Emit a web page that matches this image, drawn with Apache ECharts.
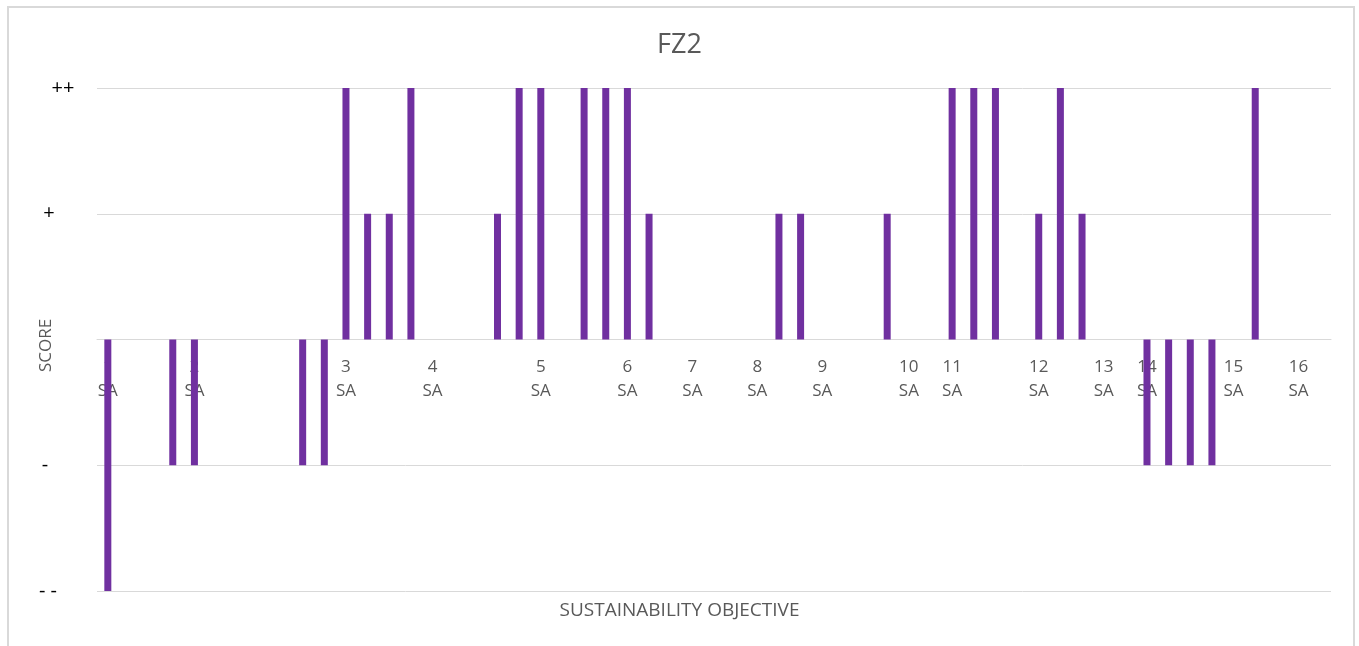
<!DOCTYPE html>
<html>
<head>
<meta charset="utf-8">
<script src="https://cdn.jsdelivr.net/npm/echarts@6/dist/echarts.min.js"></script>
<style>
  html, body { margin: 0; padding: 0; background: #fff; }
  #chart { width: 1359px; height: 646px; }
</style>
</head>
<body>
<div id="chart"></div>
<script>
// one slot per appraisal row, only the first row of each objective is labelled
const categories = [
  '1\nSA', '', '', '', '2\nSA', '', '', '', '', '', '',
  '3\nSA', '', '', '', '4\nSA', '', '', '', '', '5\nSA', '', '', '',
  '6\nSA', '', '', '7\nSA', '', '', '8\nSA', '', '', '9\nSA', '', '', '',
  '10\nSA', '', '11\nSA', '', '', '', '12\nSA', '', '', '13\nSA', '',
  '14\nSA', '', '', '', '15\nSA', '', '', '16\nSA', ''
]

// -2 = "- -", -1 = "-", 1 = "+", 2 = "++"
const scores = [
  -2, null, null, -1, -1, null, null, null, null, -1, -1,
  2, 1, 1, 2, null, null, null, 1, 2, 2, null, 2, 2,
  2, 1, null, null, null, null, null, 1, 1, null, null, null, 1,
  null, null, 2, 2, 2, null, 1, 2, 1, null, null,
  -1, -1, -1, -1, null, 2, null, null, null
]

const scoreLabels = ['- -', '-', '', '+', '++']  // for -2 .. 2

const chart = echarts.init(document.getElementById('chart'))

const textFont = '"Open Sans", "Noto Sans", sans-serif'
const gridTop = 88
const gridBottom = 55
const plotHeight = 646 - gridTop - gridBottom

// the excel labels are not aligned to one edge, nudge each a bit
const yLabelRich = {
  pp: { fontSize: 20, color: '#000', padding: [0, 0, 0, 18] },
  p: { fontSize: 20, color: '#000', padding: [0, 10, 0, 0] },
  m: { fontSize: 20, color: '#000', padding: [0, 18, 0, 0] },
  mm: { fontSize: 20, color: '#000', padding: [0, 12, 0, 0] },
}
const yLabelStyle = ['mm', 'm', null, 'p', 'pp']

chart.setOption({
  animation: false,
  textStyle: { fontFamily: textFont },
  title: [
    {
      text: 'FZ2',
      left: 'center',
      top: 27,
      textStyle: { fontSize: 27, fontWeight: 'normal', color: '#595959', fontFamily: textFont },
    },
    {
      // x axis title sits under the plot, not under the zero line
      text: 'SUSTAINABILITY OBJECTIVE',
      left: 'center',
      top: 601,
      padding: 0,
      textStyle: { fontSize: 19, fontWeight: 'normal', color: '#595959', fontFamily: textFont },
    },
  ],
  graphic: [
    {
      type: 'rect',
      shape: { x: 8, y: 7, width: 1346, height: 660 },
      style: { fill: null, stroke: '#d9d9d9', lineWidth: 2 },
      silent: true,
    },
  ],
  grid: { left: 97, right: 28, top: gridTop, bottom: gridBottom, outerBoundsMode: 'none' },
  xAxis: {
    type: 'category',
    data: categories,
    // labels hang from the zero line (y range is symmetric, so zero is mid-plot)
    offset: -plotHeight / 2,
    axisLine: { show: true, onZero: false, lineStyle: { color: '#d9d9d9', width: 1 } },
    axisTick: { show: false },
    axisLabel: {
      interval: 0,
      color: '#595959',
      fontSize: 17,
      lineHeight: 24,
      margin: 16,
    },
  },
  yAxis: {
    type: 'value',
    min: -2,
    max: 2,
    interval: 1,
    name: 'SCORE',
    nameLocation: 'middle',
    nameGap: 42,
    nameMoveOverlap: false,
    nameTextStyle: { color: '#595959', fontSize: 17, padding: [0, 12, 0, 0] },
    axisLine: { show: false },
    axisTick: { show: false },
    splitLine: { lineStyle: { color: '#d9d9d9', width: 1 } },
    axisLabel: {
      color: '#000',
      fontSize: 20,
      align: 'center',
      margin: 43,
      rich: yLabelRich,
      formatter: (v) => {
        const style = yLabelStyle[v + 2]
        return style ? `{${style}|${scoreLabels[v + 2]}}` : ''
      },
    },
  },
  series: [
    {
      type: 'bar',
      data: scores,
      barWidth: 7,
      itemStyle: { color: '#7030a0' },
    },
  ],
})
</script>
</body>
</html>
